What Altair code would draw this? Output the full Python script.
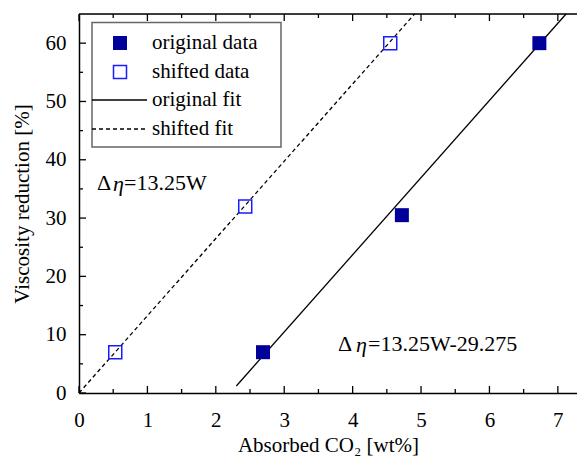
import altair as alt
import pandas as pd

# data
orig_x = [2.69, 4.72, 6.73]
orig_y = [7.0, 30.5, 60.0]
shift_x = [0.53, 2.43, 4.55]
shift_y = [7.0, 32.0, 60.0]
orig_fit_x = [2.30, 7.12]
orig_fit_y = [1.2, 65.0]
shift_fit_x = [0.0, 4.906]
shift_fit_y = [0.0, 65.0]
x_major = [0, 1, 2, 3, 4, 5, 6, 7]
x_minor = [0.5, 1.5, 2.5, 3.5, 4.5, 5.5, 6.5]
y_major = [0, 10, 20, 30, 40, 50, 60]
y_minor = [5, 15, 25, 35, 45, 55]
legend_labels = ["original data", "shifted data", "original fit", "shifted fit"]

W, H = 498, 379
FONT = "Liberation Serif, Times New Roman, Times, serif"
FS = 21
NAVY = "#00009a"
BLUE = "#1a1aff"

xs = alt.Scale(domain=[0, 7.28], nice=False, zero=False)
ys = alt.Scale(domain=[0, 65], nice=False, zero=False)

x_ax = alt.Axis(values=x_major, format="d", grid=False, ticks=False, domainColor="black",
                domainWidth=1.5, labelFont=FONT, labelFontSize=FS, labelColor="black",
                labelPadding=16, labelFlush=False, titleFont=FONT, titleFontSize=FS,
                titleFontWeight="normal", titleColor="black", titlePadding=4)
y_ax = alt.Axis(values=y_major, format="d", grid=False, ticks=False, domainColor="black",
                domainWidth=1.5, labelFont=FONT, labelFontSize=FS, labelColor="black",
                labelPadding=13, labelFlush=False, titleFont=FONT, titleFontSize=FS,
                titleFontWeight="normal", titleColor="black", titlePadding=13)

df_o = pd.DataFrame({"x": orig_x, "y": orig_y})
df_s = pd.DataFrame({"x": shift_x, "y": shift_y})
df_of = pd.DataFrame({"x": orig_fit_x, "y": orig_fit_y})
df_sf = pd.DataFrame({"x": shift_fit_x, "y": shift_fit_y})

base_x = alt.X("x:Q", scale=xs, axis=x_ax, title="Absorbed CO₂ [wt%]")
base_y = alt.Y("y:Q", scale=ys, axis=y_ax, title="Viscosity reduction [%]")

orig_fit = alt.Chart(df_of).mark_line(color="black", strokeWidth=1.3).encode(x=base_x, y=base_y)
shift_fit = alt.Chart(df_sf).mark_line(color="black", strokeWidth=1.3, strokeDash=[4, 3]).encode(
    x=base_x, y=base_y)
orig_pts = alt.Chart(df_o).mark_square(size=196, color=NAVY, opacity=1).encode(
    x=base_x, y=base_y)
shift_pts = alt.Chart(df_s).mark_point(shape="square", size=169, filled=False, stroke=BLUE,
                                       strokeWidth=1.5, opacity=1).encode(x=base_x, y=base_y)

# top frame line
top_line = alt.Chart(pd.DataFrame({"a": [0]})).mark_rule(color="black", strokeWidth=1.5).encode(
    x=alt.value(0), x2=alt.value(W), y=alt.value(0))

# inward ticks
def xticks(vals, length):
    d = pd.DataFrame({"x": vals})
    b = alt.Chart(d).mark_rule(color="black", strokeWidth=1.3).encode(
        x=base_x, y=alt.value(H), y2=alt.value(H - length))
    t = alt.Chart(d).mark_rule(color="black", strokeWidth=1.3).encode(
        x=base_x, y=alt.value(0), y2=alt.value(length))
    return b + t

def yticks(vals, length):
    d = pd.DataFrame({"y": vals})
    return alt.Chart(d).mark_rule(color="black", strokeWidth=1.3).encode(
        y=base_y, x=alt.value(0), x2=alt.value(length))

ticks = xticks(x_major, 7) + xticks(x_minor, 4) + yticks(y_major, 7) + yticks(y_minor, 4)

# legend box (manual)
one = pd.DataFrame({"a": [0]})
leg_box = alt.Chart(one).mark_rect(fill="white", stroke="#666666", strokeWidth=1.5).encode(
    x=alt.value(13), x2=alt.value(202), y=alt.value(8.5), y2=alt.value(133))
leg_sq1 = alt.Chart(one).mark_square(size=196, color=NAVY, opacity=1).encode(
    x=alt.value(41), y=alt.value(29))
leg_sq2 = alt.Chart(one).mark_point(shape="square", size=169, filled=False, stroke=BLUE,
                                    strokeWidth=1.5, opacity=1).encode(x=alt.value(41), y=alt.value(58))
leg_l1 = alt.Chart(one).mark_rule(color="black", strokeWidth=1.3).encode(
    x=alt.value(13), x2=alt.value(68), y=alt.value(86))
leg_l2 = alt.Chart(one).mark_rule(color="black", strokeWidth=1.3, strokeDash=[4, 3]).encode(
    x=alt.value(13), x2=alt.value(68), y=alt.value(115))
leg_txt = alt.Chart(pd.DataFrame({"label": legend_labels, "py": [29, 58, 86, 115]})).mark_text(
    align="left", baseline="middle", font=FONT, fontSize=FS, color="black").encode(
    x=alt.value(73), y=alt.Y("py:Q", scale=None), text="label:N")

def txt(s, px, py, italic=False, fs=22):
    kw = dict(align="left", baseline="middle", font=FONT, fontSize=fs, color="black")
    if italic:
        kw["fontStyle"] = "italic"
    return alt.Chart(pd.DataFrame({"s": [s]})).mark_text(**kw).encode(
        x=alt.value(px), y=alt.value(py), text="s:N")

ann = (txt("Δ", 18, 169) + txt("η", 34, 170, True) + txt("=13.25W", 45, 169) +
       txt("Δ", 259, 330) + txt("η", 277, 331, True) + txt("=13.25W-29.275", 289, 330))

chart = alt.layer(orig_fit, shift_fit, orig_pts, shift_pts, top_line, ticks,
                  leg_box, leg_sq1, leg_sq2, leg_l1, leg_l2, leg_txt, ann).properties(
    width=W, height=H,
    autosize=alt.AutoSizeParams(type="none"),
    padding={"left": 71, "top": 6, "right": 0, "bottom": 64},
).configure_view(stroke=None).configure(background="white", font=FONT).configure_axis(
    labelFont=FONT, titleFont=FONT).configure_text(font=FONT)

chart.save("out.html", embed_options={"renderer": "svg", "actions": False})
